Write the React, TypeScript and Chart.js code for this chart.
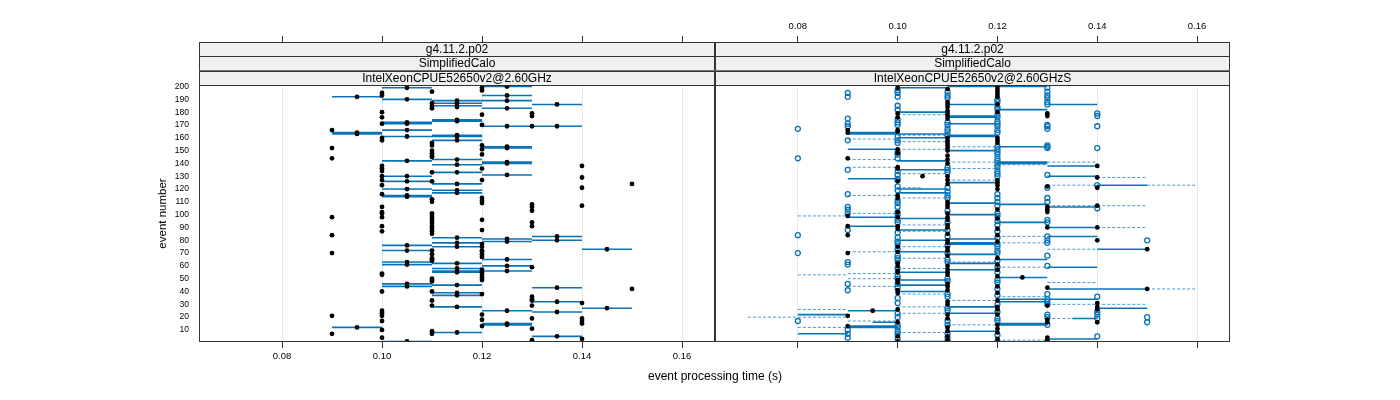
import React, { useEffect, useRef } from 'react';
import { Chart, registerables } from 'chart.js';

Chart.register(...registerables);

// ---------- axis values ----------
const xTickValues = [0.08, 0.1, 0.12, 0.14, 0.16];
const yTickValues = [10, 20, 30, 40, 50, 60, 70, 80, 90, 100, 110, 120, 130, 140, 150, 160, 170, 180, 190, 200];
const X_MIN = 0.0634;
const X_MAX = 0.1666;
const Y_MIN = 0.6;
const Y_MAX = 201.2;

const stripLeft = ['g4.11.2.p02', 'SimplifiedCalo', 'IntelXeonCPUE52650v2@2.60GHz'];
const stripRight = ['g4.11.2.p02', 'SimplifiedCalo', 'IntelXeonCPUE52650v2@2.60GHzS'];
const xTitle = 'event processing time (s)';
const yTitle = 'event number';

// ---------- left panel data ----------
// [event number, from time, to time]
const leftSegments: [number, number, number][] = [
  [200, 0.12, 0.13], [199, 0.10, 0.11], [193, 0.12, 0.13], [192, 0.09, 0.10], [190, 0.10, 0.11],
  [189, 0.11, 0.12], [189, 0.12, 0.13], [187, 0.11, 0.12], [186, 0.13, 0.14], [185, 0.11, 0.12],
  [183, 0.12, 0.13], [174, 0.11, 0.12], [173, 0.11, 0.12], [172, 0.10, 0.11], [171, 0.10, 0.11],
  [169, 0.12, 0.13], [169, 0.13, 0.14], [166, 0.10, 0.11], [164, 0.09, 0.10], [163, 0.09, 0.10],
  [162, 0.11, 0.12], [161, 0.11, 0.12], [161, 0.10, 0.11], [158, 0.11, 0.12], [153, 0.12, 0.13],
  [152, 0.12, 0.13], [143, 0.11, 0.12], [142, 0.10, 0.11], [141, 0.12, 0.13], [140, 0.12, 0.13],
  [139, 0.11, 0.12], [133, 0.11, 0.12], [131, 0.12, 0.13], [130, 0.10, 0.11], [126, 0.10, 0.11],
  [124, 0.11, 0.12], [120, 0.10, 0.11], [119, 0.11, 0.12], [117, 0.11, 0.12], [115, 0.10, 0.11],
  [114, 0.10, 0.11], [83, 0.13, 0.14], [82, 0.11, 0.12], [81, 0.12, 0.13], [80, 0.13, 0.14],
  [79, 0.12, 0.13], [78, 0.11, 0.12], [76, 0.10, 0.11], [75, 0.11, 0.12], [73, 0.14, 0.15],
  [72, 0.10, 0.11], [65, 0.12, 0.13], [63, 0.10, 0.11], [62, 0.11, 0.12], [61, 0.10, 0.11],
  [60, 0.12, 0.13], [58, 0.11, 0.12], [56, 0.11, 0.12], [56, 0.12, 0.13], [55, 0.11, 0.12],
  [46, 0.10, 0.11], [45, 0.11, 0.12], [44, 0.10, 0.11], [43, 0.13, 0.14], [39, 0.11, 0.12],
  [37, 0.11, 0.12], [32, 0.13, 0.14], [28, 0.11, 0.12], [27, 0.14, 0.15], [25, 0.12, 0.13],
  [24, 0.13, 0.14], [15, 0.12, 0.13], [14, 0.12, 0.13], [12, 0.09, 0.10], [8, 0.11, 0.12],
  [5, 0.13, 0.14], [1, 0.10, 0.11],
];

const leftDotTimes = [0.09, 0.095, 0.10, 0.105, 0.11, 0.115, 0.12, 0.125, 0.13, 0.135, 0.14, 0.145, 0.15];
const leftDotEvents: number[][] = [
  [166, 152, 144, 98, 84, 70, 21, 7],
  [192, 164, 163, 12],
  [195, 193, 180, 176, 171, 160, 158, 138, 136, 134, 130, 127, 123, 116, 106, 102, 101, 98, 91, 87, 54, 53, 40, 25, 23, 21, 17, 10, 4],
  [199, 190, 172, 171, 166, 161, 142, 130, 126, 120, 115, 114, 76, 72, 63, 61, 46, 44, 1],
  [196, 187, 185, 183, 156, 154, 150, 148, 146, 145, 133, 126, 112, 110, 101, 99, 97, 95, 93, 91, 89, 87, 85, 72, 69, 66, 65, 64, 50, 49, 48, 40, 33, 29, 9, 7],
  [189, 187, 185, 184, 174, 173, 162, 161, 158, 143, 139, 133, 124, 119, 117, 82, 78, 75, 62, 58, 56, 55, 45, 39, 37, 28, 8],
  [199, 197, 178, 170, 154, 151, 147, 136, 127, 113, 111, 109, 96, 88, 77, 75, 72, 71, 69, 67, 57, 55, 53, 51, 49, 38, 22, 18, 13],
  [200, 193, 189, 183, 169, 153, 152, 141, 140, 131, 81, 79, 65, 60, 56, 25, 15, 14],
  [179, 177, 169, 108, 106, 103, 94, 91, 59, 36, 34, 33, 29, 19, 11, 2],
  [186, 169, 83, 80, 43, 32, 24, 5],
  [138, 129, 121, 107, 31, 19, 17, 15, 3],
  [73, 27],
  [124, 42],
];

// ---------- right panel data ----------
const rightSolid: [number, number, number][] = [
  [199, 0.10, 0.11], [200, 0.11, 0.12], [200, 0.12, 0.13], [186, 0.11, 0.12], [186, 0.13, 0.14],
  [182, 0.12, 0.13], [180, 0.10, 0.11], [177, 0.11, 0.12], [176, 0.11, 0.12], [171, 0.11, 0.12],
  [164, 0.09, 0.10], [163, 0.09, 0.10], [163, 0.10, 0.11], [162, 0.11, 0.12], [161, 0.11, 0.12],
  [160, 0.10, 0.11], [153, 0.12, 0.13], [151, 0.09, 0.10], [150, 0.11, 0.12], [142, 0.10, 0.11],
  [141, 0.12, 0.13], [140, 0.12, 0.13], [138, 0.13, 0.14], [135, 0.10, 0.11], [130, 0.13, 0.14],
  [128, 0.09, 0.10], [125, 0.11, 0.12], [123, 0.14, 0.15], [120, 0.10, 0.11], [117, 0.10, 0.11],
  [109, 0.11, 0.12], [108, 0.12, 0.13], [106, 0.13, 0.14], [100, 0.11, 0.12], [98, 0.09, 0.10],
  [97, 0.10, 0.11], [94, 0.12, 0.13], [91, 0.09, 0.10], [90, 0.13, 0.14], [88, 0.10, 0.11],
  [83, 0.13, 0.14], [81, 0.11, 0.12], [80, 0.10, 0.11], [78, 0.11, 0.12], [77, 0.11, 0.12],
  [73, 0.14, 0.15], [71, 0.10, 0.11], [69, 0.11, 0.12], [65, 0.12, 0.13], [62, 0.11, 0.12],
  [59, 0.13, 0.14], [57, 0.11, 0.12], [55, 0.10, 0.11], [51, 0.12, 0.13], [49, 0.10, 0.11],
  [45, 0.10, 0.11], [42, 0.13, 0.14], [42, 0.14, 0.15], [40, 0.10, 0.11], [34, 0.12, 0.13],
  [34, 0.13, 0.14], [32, 0.12, 0.13], [28, 0.11, 0.12], [27, 0.14, 0.15], [25, 0.09, 0.10],
  [23, 0.11, 0.12], [22, 0.08, 0.09], [19, 0.135, 0.14], [16, 0.095, 0.10], [15, 0.12, 0.13],
  [14, 0.12, 0.13], [13, 0.09, 0.10], [12, 0.09, 0.10], [9, 0.11, 0.12], [7, 0.08, 0.09],
  [3, 0.13, 0.14], [1, 0.10, 0.11],
];

const rightDashed: [number, number, number][] = [
  [178, 0.10, 0.11], [159, 0.09, 0.10], [162, 0.10, 0.11], [157, 0.10, 0.11], [153, 0.11, 0.12],
  [151, 0.10, 0.11], [143, 0.09, 0.10], [141, 0.11, 0.12], [141, 0.13, 0.14], [139, 0.12, 0.13],
  [137, 0.09, 0.10], [136, 0.11, 0.12], [132, 0.10, 0.11], [129, 0.14, 0.15], [127, 0.11, 0.12],
  [123, 0.13, 0.14], [123, 0.15, 0.16], [121, 0.10, 0.105], [115, 0.09, 0.10], [113, 0.10, 0.11],
  [107, 0.13, 0.14], [107, 0.14, 0.15], [101, 0.09, 0.10], [99, 0.08, 0.09], [92, 0.10, 0.11],
  [90, 0.14, 0.15], [87, 0.10, 0.11], [83, 0.12, 0.13], [78, 0.12, 0.13], [75, 0.10, 0.11],
  [73, 0.13, 0.14], [71, 0.09, 0.10], [66, 0.10, 0.11], [63, 0.11, 0.12], [59, 0.12, 0.13],
  [58, 0.10, 0.11], [54, 0.09, 0.10], [53, 0.08, 0.09], [50, 0.09, 0.10], [47, 0.13, 0.14],
  [44, 0.09, 0.10], [42, 0.15, 0.16], [38, 0.10, 0.11], [36, 0.12, 0.13], [33, 0.11, 0.12],
  [30, 0.13, 0.14], [30, 0.14, 0.15], [28, 0.10, 0.11], [26, 0.08, 0.09], [23, 0.10, 0.11],
  [20, 0.07, 0.09], [19, 0.13, 0.135], [17, 0.09, 0.10], [14, 0.11, 0.12], [12, 0.08, 0.09],
  [8, 0.10, 0.11], [2, 0.12, 0.13],
];

const rightCircleTimes = [0.08, 0.09, 0.10, 0.11, 0.12, 0.13, 0.14, 0.15];
const rightCircleEvents: number[][] = [
  [167, 144, 84, 70, 17],
  [195, 192, 175, 171, 169, 158, 135, 116, 106, 104, 101, 88, 63, 61, 46, 41, 10, 7, 4],
  [197, 195, 192, 185, 182, 174, 172, 170, 161, 158, 156, 149, 147, 144, 134, 131, 128, 127, 122, 119, 111, 109, 106, 102, 100, 96, 94, 86, 82, 79, 77, 73, 68, 66, 64, 58, 52, 50, 46, 43, 35, 31, 23, 20, 14, 12, 9, 7, 3],
  [196, 193, 191, 172, 170, 167, 165, 162, 137, 135, 133, 121, 118, 115, 113, 103, 94, 88, 83, 76, 70, 65, 63, 50, 48, 38, 36, 27, 25, 17, 14, 7, 4, 1],
  [190, 188, 184, 182, 178, 176, 173, 171, 169, 166, 164, 153, 151, 149, 147, 144, 142, 139, 137, 134, 132, 130, 116, 113, 110, 107, 101, 99, 95, 92, 87, 82, 77, 75, 72, 70, 64, 59, 55, 49, 47, 42, 37, 30, 24, 19, 17, 6, 1],
  [199, 196, 193, 191, 188, 186, 170, 169, 167, 154, 153, 152, 131, 121, 113, 110, 96, 94, 83, 80, 78, 68, 60, 38, 34, 32, 30, 22, 20, 14],
  [179, 177, 169, 152, 123, 105, 36, 24, 22, 19, 5],
  [80, 20, 16],
];

const rightDotTimes = [0.09, 0.095, 0.10, 0.105, 0.11, 0.12, 0.125, 0.13, 0.14, 0.15];
const rightDotEvents: number[][] = [
  [166, 164, 144, 99, 91, 84, 70, 21, 13],
  [25],
  [199, 179, 176, 166, 165, 151, 148, 137, 136, 126, 115, 113, 102, 98, 91, 89, 75, 71, 62, 60, 56, 55, 49, 47, 41, 39, 26, 16, 5, 1],
  [130],
  [198, 188, 186, 184, 181, 179, 177, 175, 160, 158, 156, 154, 152, 150, 146, 143, 140, 130, 127, 124, 110, 108, 106, 101, 98, 96, 92, 90, 85, 80, 78, 74, 72, 68, 60, 57, 55, 53, 46, 44, 41, 32, 30, 22, 19, 12, 9, 5, 2],
  [200, 198, 196, 194, 192, 186, 180, 160, 158, 156, 127, 125, 123, 120, 104, 97, 89, 84, 79, 66, 61, 57, 52, 44, 39, 33, 28, 26, 22, 14, 11, 8, 3],
  [51],
  [179, 177, 122, 106, 104, 102, 90, 43, 29, 18, 16, 4, 2],
  [138, 129, 121, 107, 90, 80, 31, 28, 26, 16],
  [73, 42],
];

// ---------- layout / style ----------
const W = 1400;
const H = 400;
const PANEL_TOP = 85;
const PANEL_BOTTOM = 342;
const STRIP_TOP = 42;
const TOP_TICK_END = 36;
const LEFT_L = 199;
const LEFT_R = 715;
const RIGHT_L = 715;
const RIGHT_R = 1230;
const FONT = '"Liberation Sans", Arial, Helvetica, sans-serif';
const BLUE = '#0a74b6';
const BLUE_DASH = '#4b98cf';

Chart.defaults.font.family = FONT;

const segData = (segs: [number, number, number][]) =>
  segs.flatMap(([e, a, b]) => [
    { x: a, y: e },
    { x: b, y: e },
    { x: b, y: null as any },
  ]);

const colData = (times: number[], events: number[][]) =>
  times.flatMap((t, i) => events[i].map((e) => ({ x: t, y: e })));

const decorPlugin = (strips: string[], withTitles: boolean) => ({
  id: 'panelDecor',
  afterDraw(chart: any) {
    const { ctx, chartArea } = chart;
    const { left, right, top, bottom } = chartArea;
    ctx.save();
    const h = (top - STRIP_TOP) / strips.length;
    strips.forEach((t, i) => {
      const y0 = STRIP_TOP + i * h;
      ctx.fillStyle = '#f0f0f0';
      ctx.fillRect(left, y0, right - left, h);
      ctx.strokeStyle = '#333';
      ctx.lineWidth = 1;
      ctx.strokeRect(left + 0.5, Math.round(y0) + 0.5, right - left - 1, Math.round(h));
      ctx.fillStyle = '#000';
      ctx.font = `12px ${FONT}`;
      ctx.textAlign = 'center';
      ctx.textBaseline = 'middle';
      ctx.fillText(t, (left + right) / 2, y0 + h / 2 + 0.5);
    });
    ctx.strokeStyle = '#333';
    ctx.lineWidth = 1;
    ctx.strokeRect(left + 0.5, top + 0.5, right - left - 1, bottom - top - 1);
    if (withTitles) {
      ctx.fillStyle = '#000';
      ctx.font = `12px ${FONT}`;
      ctx.textAlign = 'center';
      ctx.textBaseline = 'middle';
      ctx.fillText(xTitle, 715, 377);
      ctx.save();
      ctx.translate(163, (top + bottom) / 2);
      ctx.rotate(-Math.PI / 2);
      ctx.font = `11.5px ${FONT}`;
      ctx.fillText(yTitle, 0, 0);
      ctx.restore();
    }
    ctx.restore();
  },
});

const makeOptions = (isLeft: boolean): any => ({
  responsive: false,
  animation: false,
  devicePixelRatio: 1,
  events: [],
  layout: {
    padding: {
      left: isLeft ? 0 : RIGHT_L,
      right: W - (isLeft ? LEFT_R : RIGHT_R),
      top: 0,
      bottom: 0,
    },
  },
  plugins: { legend: { display: false }, tooltip: { enabled: false }, title: { display: false } },
  scales: {
    x: {
      type: 'linear',
      position: 'bottom',
      min: X_MIN,
      max: X_MAX,
      afterBuildTicks: (s: any) => {
        s.ticks = xTickValues.map((v) => ({ value: v }));
      },
      afterFit: (s: any) => {
        s.height = H - PANEL_BOTTOM;
      },
      grid: { color: '#e8e8e8', tickColor: '#333', tickLength: 6, drawTicks: true, lineWidth: 1 },
      border: { display: false },
      ticks: {
        display: isLeft,
        autoSkip: false,
        maxRotation: 0,
        color: '#000',
        padding: 3,
        font: { size: 9.5, family: FONT },
        callback: (v: number) => Number(v).toFixed(2),
      },
    },
    xTop: {
      type: 'linear',
      position: 'top',
      min: X_MIN,
      max: X_MAX,
      afterBuildTicks: (s: any) => {
        s.ticks = xTickValues.map((v) => ({ value: v }));
      },
      afterFit: (s: any) => {
        s.height = PANEL_TOP;
      },
      grid: { drawOnChartArea: false, tickColor: '#333', tickLength: PANEL_TOP - TOP_TICK_END, drawTicks: true },
      border: { display: false },
      ticks: {
        display: !isLeft,
        autoSkip: false,
        maxRotation: 0,
        color: '#000',
        padding: 4,
        font: { size: 9.5, family: FONT },
        callback: (v: number) => Number(v).toFixed(2),
      },
    },
    y: {
      type: 'linear',
      position: 'left',
      display: isLeft,
      min: Y_MIN,
      max: Y_MAX,
      afterBuildTicks: (s: any) => {
        s.ticks = yTickValues.map((v) => ({ value: v }));
      },
      afterFit: (s: any) => {
        s.width = isLeft ? LEFT_L : 0;
      },
      grid: { display: false, drawTicks: false },
      border: { display: false },
      ticks: {
        autoSkip: false,
        color: '#000',
        padding: 10,
        font: { size: 8.5, family: FONT },
      },
    },
  },
});

function LatticeChart() {
  const leftRef = useRef<HTMLCanvasElement>(null);
  const rightRef = useRef<HTMLCanvasElement>(null);

  useEffect(() => {
    const left = new Chart(leftRef.current as HTMLCanvasElement, {
      type: 'scatter',
      data: {
        datasets: [
          {
            type: 'scatter',
            data: colData(leftDotTimes, leftDotEvents),
            pointRadius: 2.4,
            pointBackgroundColor: '#000',
            pointBorderWidth: 0,
            order: 0,
          } as any,
          {
            type: 'line',
            data: segData(leftSegments),
            showLine: true,
            spanGaps: false,
            borderColor: BLUE,
            borderWidth: 1.6,
            pointRadius: 0,
            order: 1,
          } as any,
        ],
      },
      options: makeOptions(true),
      plugins: [decorPlugin(stripLeft, true)],
    });

    const right = new Chart(rightRef.current as HTMLCanvasElement, {
      type: 'scatter',
      data: {
        datasets: [
          {
            type: 'scatter',
            data: colData(rightDotTimes, rightDotEvents),
            pointRadius: 2.4,
            pointBackgroundColor: '#000',
            pointBorderWidth: 0,
            order: 0,
          } as any,
          {
            type: 'scatter',
            data: colData(rightCircleTimes, rightCircleEvents),
            pointRadius: 2.5,
            pointBackgroundColor: 'rgba(255,255,255,0)',
            pointBorderColor: BLUE,
            pointBorderWidth: 1.3,
            order: 1,
          } as any,
          {
            type: 'line',
            data: segData(rightSolid),
            showLine: true,
            spanGaps: false,
            borderColor: BLUE,
            borderWidth: 1.6,
            pointRadius: 0,
            order: 2,
          } as any,
          {
            type: 'line',
            data: segData(rightDashed),
            showLine: true,
            spanGaps: false,
            borderColor: BLUE_DASH,
            borderWidth: 1,
            borderDash: [3, 2],
            pointRadius: 0,
            order: 3,
          } as any,
        ],
      },
      options: makeOptions(false),
      plugins: [decorPlugin(stripRight, false)],
    });

    return () => {
      left.destroy();
      right.destroy();
    };
  }, []);

  return (
    <div style={{ position: 'absolute', left: 0, top: 0, width: W, height: H, overflow: 'hidden', background: '#fff' }}>
      <canvas ref={leftRef} width={W} height={H} style={{ position: 'absolute', left: 0, top: 0 }} />
      <canvas ref={rightRef} width={W} height={H} style={{ position: 'absolute', left: 0, top: 0 }} />
    </div>
  );
}

export default function App() {
  return <LatticeChart />;
}
